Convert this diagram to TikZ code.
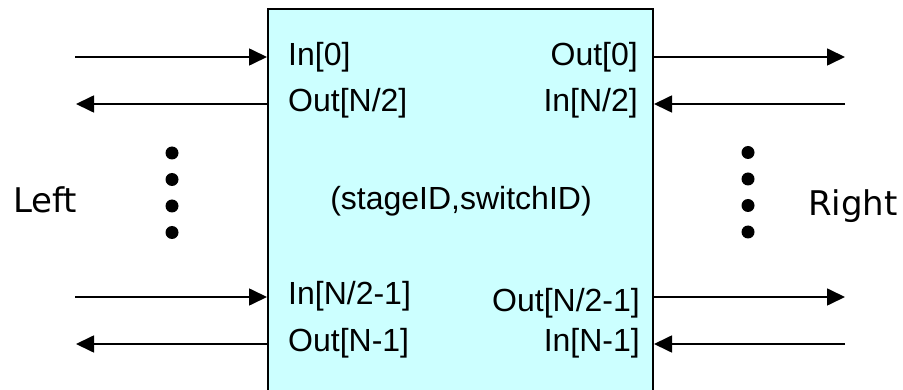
\documentclass[tikz,border=0pt]{standalone}
\usepackage{fontspec}
\setmainfont{Liberation Sans}
\newfontfamily\sidefont{DejaVu Sans}
\usetikzlibrary{arrows.meta}
\definecolor{switchfill}{RGB}{204,255,255}
\tikzset{
  port/.style={font=\fontsize{32}{36}\selectfont, inner sep=0pt},
  side/.style={font=\sidefont\fontsize{34}{40}\selectfont, inner sep=0pt},
  link/.style={line width=1.7pt, -{Triangle[length=18pt,width=17pt]}},
  dot/.style={circle, fill=black, minimum size=13pt, inner sep=0pt},
}
\begin{document}
\begin{tikzpicture}[x=1pt, y=-1pt]
  \useasboundingbox (0,0) rectangle (903,390);
  \clip (0,0) rectangle (903,390);

  % the switch element, running past the lower edge
  \node[draw, line width=2pt, fill=switchfill, anchor=north west,
        minimum width=385pt, minimum height=400pt, inner sep=0pt] (sw) at (267,8) {};

  % port labels
  \node[port, anchor=base west] (in0)   at (288,66)  {In[0]};
  \node[port, anchor=base west] (outh)  at (288,112) {Out[N/2]};
  \node[port, anchor=base east] (out0)  at (638,66)  {Out[0]};
  \node[port, anchor=base east] (inh)   at (638,112) {In[N/2]};
  \node[port, anchor=base]      (id)    at (461,210) {(stageID,switchID)};
  \node[port, anchor=base west] (inh1)  at (288,305) {In[N/2-1]};
  \node[port, anchor=base west] (outn1) at (288,352) {Out[N-1]};
  \node[port, anchor=base east] (outh1) at (640,312) {Out[N/2-1]};
  \node[port, anchor=base east] (inn1)  at (640,352) {In[N-1]};

  % free ends of the links
  \coordinate (la) at (75,57);
  \coordinate (lb) at (76,104);
  \coordinate (lc) at (75,297);
  \coordinate (ld) at (76,344);
  \coordinate (ra) at (845,57);
  \coordinate (rb) at (845,104);
  \coordinate (rc) at (845,297);
  \coordinate (rd) at (845,344);

  % left links
  \draw[link] (la) -- (la -| sw.west);
  \draw[link] (lb -| sw.west) -- (lb);
  \draw[link] (lc) -- (lc -| sw.west);
  \draw[link] (ld -| sw.west) -- (ld);
  % right links
  \draw[link] (ra -| sw.east) -- (ra);
  \draw[link] (rb) -- (rb -| sw.east);
  \draw[link] (rc -| sw.east) -- (rc);
  \draw[link] (rd) -- (rd -| sw.east);

  % vertical ellipses
  \foreach \y [count=\i] in {153,179.5,206,232.5} {
    \node[dot] (ldot\i) at (172,\y) {};
    \node[dot] (rdot\i) at (748,\y-0.5) {};
  }

  % side captions
  \node[side, anchor=base west] (left)  at (13,213)  {Left};
  \node[side, anchor=base west] (right) at (808,216) {Right};
\end{tikzpicture}
\end{document}
